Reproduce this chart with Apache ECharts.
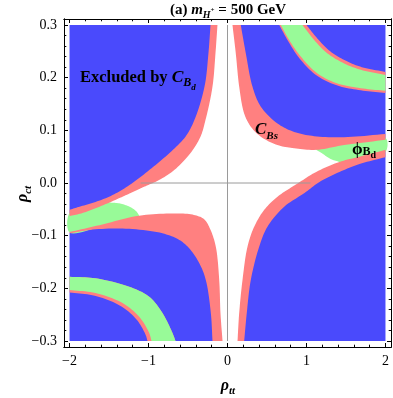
<!DOCTYPE html>
<html>
<head>
<meta charset="utf-8">
<script src="https://cdn.jsdelivr.net/npm/echarts@6/dist/echarts.min.js"></script>
<style>
  html, body { margin: 0; padding: 0; background: #fff; }
  #chart { width: 393px; height: 398px; }
</style>
</head>
<body>
<div id="chart"></div>
<script>
// axis ranges (Mathematica pads the frame a little around the data range)
const xRange = [-2, 2];
const yRange = [-0.3, 0.3];
const xMajor = [-2, -1, 0, 1, 2];
const yMajor = [-0.3, -0.2, -0.1, 0, 0.1, 0.2, 0.3];

// boundary curves, [rho_tt, rho_ct]
// C_Bs band, upper left: edge against the blue, and edge against the allowed region
const ulBlue = [[-2, -0.051], [-1.873, -0.045], [-1.671, -0.036], [-1.456, -0.023], [-1.241, -0.004],
  [-0.987, 0.025], [-0.734, 0.057], [-0.532, 0.088], [-0.418, 0.120], [-0.291, 0.183],
  [-0.241, 0.247], [-0.215, 0.300]];
const ulInner = [[-0.127, 0.300], [-0.152, 0.247], [-0.190, 0.183], [-0.278, 0.120], [-0.342, 0.088],
  [-0.468, 0.057], [-0.671, 0.025], [-0.861, 0.006], [-1.038, -0.006], [-1.241, -0.020],
  [-1.494, -0.037], [-1.671, -0.048], [-1.835, -0.057], [-2, -0.063]];
// C_Bs band, lower left
const llInner = [[-2, -0.093], [-1.620, -0.080], [-1.118, -0.062], [-0.696, -0.058], [-0.443, -0.060],
  [-0.295, -0.069], [-0.215, -0.089], [-0.148, -0.121], [-0.105, -0.184], [-0.089, -0.247],
  [-0.063, -0.300]];
const llBlue = [[-0.190, -0.300], [-0.211, -0.247], [-0.275, -0.184], [-0.358, -0.152], [-0.485, -0.124],
  [-0.611, -0.108], [-0.823, -0.0955], [-1.244, -0.087], [-1.671, -0.088], [-2, -0.0955]];
// C_Bs band, upper right
const urInner = [[0.063, 0.300], [0.105, 0.246], [0.148, 0.183], [0.211, 0.132], [0.295, 0.107],
  [0.422, 0.088], [0.633, 0.072], [0.844, 0.066], [1.123, 0.063], [1.477, 0.072], [2, 0.082]];
const urBlue = [[2, 0.093], [1.477, 0.087], [1.097, 0.089], [0.844, 0.097], [0.633, 0.113],
  [0.422, 0.145], [0.316, 0.183], [0.232, 0.246], [0.168, 0.300]];
// C_Bs band, lower right
const lrInner = [[2, 0.063], [1.671, 0.050], [1.418, 0.040], [1.123, 0.021], [0.886, -0.001],
  [0.633, -0.026], [0.465, -0.051], [0.338, -0.083], [0.253, -0.121], [0.190, -0.184],
  [0.148, -0.247], [0.127, -0.300]];
const lrBlue = [[0.211, -0.300], [0.244, -0.247], [0.295, -0.184], [0.401, -0.121], [0.506, -0.083],
  [0.718, -0.045], [0.975, -0.019], [1.165, 0.002], [1.418, 0.021], [1.671, 0.036], [2, 0.049]];
// phi_Bd wedges: edge against the allowed region, plus hidden parts under the C_Bs bands
const greenLeftEdge = [[-1.494, -0.037], [-1.36, -0.039], [-1.24, -0.045], [-1.16, -0.053], [-1.118, -0.062], [-1.10, -0.068]];
const greenLeftHidden = [[-1.62, -0.084], [-2, -0.094], [-2, -0.057], [-1.835, -0.051], [-1.671, -0.042], [-1.50, -0.032]];
const greenRightEdge = [[1.418, 0.040], [1.30, 0.046], [1.20, 0.056], [1.123, 0.063]];
const greenRightHidden = [[1.11, 0.066], [1.477, 0.076], [2, 0.086], [2, 0.059], [1.671, 0.046], [1.43, 0.037]];
// phi_Bd band, top right, with its thin C_Bs rim
const trOuter = [[0.949, 0.300], [1.097, 0.2715], [1.266, 0.246], [1.477, 0.227], [1.687, 0.215], [2, 0.205]];
const trInner = [[2, 0.175], [1.687, 0.180], [1.392, 0.189], [1.139, 0.208], [0.928, 0.240], [0.781, 0.2715], [0.675, 0.300]];
const trRimOuter = [[1.00, 0.300], [1.14, 0.274], [1.30, 0.250], [1.50, 0.232], [1.70, 0.220], [2, 0.211]];
const trRimInner = [[2, 0.171], [1.687, 0.176], [1.392, 0.185], [1.13, 0.204], [0.915, 0.236], [0.765, 0.270], [0.655, 0.300]];
// phi_Bd band, bottom left, with its thin C_Bs rim
const blOuter = [[-2, -0.178], [-1.671, -0.181], [-1.244, -0.197], [-0.991, -0.216], [-0.823, -0.247], [-0.696, -0.285], [-0.658, -0.300]];
const blInner = [[-0.962, -0.300], [-0.991, -0.285], [-1.118, -0.254], [-1.329, -0.228], [-1.671, -0.209], [-2, -0.203]];
const blRimInner = [[-1.013, -0.300], [-1.04, -0.287], [-1.158, -0.258], [-1.36, -0.233], [-1.68, -0.214], [-2, -0.208]];
// corners of the plotted range (kept as single points: straight edges)
const plotCorners = [[[-2, -0.3]], [[2, -0.3]], [[2, 0.3]], [[-2, 0.3]]];

const BLUE = '#4a4afc';
const PINK = '#ff8080';
const GREEN = '#98fa98';
const SERIF = '"Liberation Serif", "Times New Roman", serif';

const xPad = 0.07, yPad = 0.0114;
const xMinor = [], yMinor = [];
for (let i = -10; i <= 10; i++) if (i % 5 !== 0) xMinor.push(i / 5);
for (let i = -15; i <= 15; i++) if (i % 5 !== 0) yMinor.push(i / 50);

const rev = function (a) { return a.slice().reverse(); };

// centripetal Catmull-Rom through pixel points, so edges render as smooth curves
function smooth(P, seg) {
  const n = P.length;
  if (n < 3) return P.slice();
  const ext = [[2 * P[0][0] - P[1][0], 2 * P[0][1] - P[1][1]]].concat(P,
    [[2 * P[n - 1][0] - P[n - 2][0], 2 * P[n - 1][1] - P[n - 2][1]]]);
  const d = function (a, b) { return Math.pow(Math.hypot(b[0] - a[0], b[1] - a[1]), 0.5) || 1e-6; };
  const out = [];
  for (let i = 1; i < ext.length - 2; i++) {
    const p0 = ext[i - 1], p1 = ext[i], p2 = ext[i + 1], p3 = ext[i + 2];
    const t0 = 0, t1 = t0 + d(p0, p1), t2 = t1 + d(p1, p2), t3 = t2 + d(p2, p3);
    for (let k = 0; k < seg; k++) {
      const t = t1 + (t2 - t1) * k / seg;
      const L = function (a, b, ta, tb) {
        return [((tb - t) * a[0] + (t - ta) * b[0]) / (tb - ta), ((tb - t) * a[1] + (t - ta) * b[1]) / (tb - ta)];
      };
      const A1 = L(p0, p1, t0, t1), A2 = L(p1, p2, t1, t2), A3 = L(p2, p3, t2, t3);
      const B1 = L(A1, A2, t0, t2), B2 = L(A2, A3, t1, t3);
      out.push(L(B1, B2, t1, t2));
    }
  }
  out.push(P[n - 1]);
  return out;
}

// a filled region made of curves joined by straight pieces
function region(name, curves, color, grow) {
  return {
    type: 'custom', name: name, coordinateSystem: 'cartesian2d', silent: true,
    data: [[0, 0]],
    renderItem: function (params, api) {
      let pts = [];
      curves.forEach(function (c) {
        pts = pts.concat(smooth(c.map(function (p) { return api.coord(p); }), 10));
      });
      return {
        type: 'polygon',
        shape: { points: pts },
        style: grow ? { fill: color, stroke: color, lineWidth: grow } : { fill: color }
      };
    }
  };
}

function fmt(v, digits) {
  const s = digits ? Math.abs(v).toFixed(digits) : String(Math.abs(v));
  return (v < 0 ? '\u2212' : '') + s;
}

function axis(dim, pos, vals, len, showLabel) {
  const isX = dim === 'x';
  return {
    type: 'value', position: pos,
    min: isX ? xRange[0] - xPad : yRange[0] - yPad,
    max: isX ? xRange[1] + xPad : yRange[1] + yPad,
    axisLine: { show: true, onZero: false, lineStyle: { color: '#000', width: 1 } },
    axisTick: { show: true, inside: true, length: len, customValues: vals, lineStyle: { color: '#000', width: 1 } },
    axisLabel: {
      show: showLabel, customValues: vals, margin: 7,
      fontFamily: SERIF, fontSize: 14, color: '#000',
      formatter: function (v) { return isX ? fmt(v, 0) : fmt(v, 1); }
    },
    splitLine: { show: false }
  };
}

// lay out mixed-font text pieces on one baseline
const mctx = document.createElement('canvas').getContext('2d');
function textRun(x, baseline, parts, center) {
  const widths = parts.map(function (p) { mctx.font = p.font; return mctx.measureText(p.t).width; });
  const total = widths.reduce(function (a, b) { return a + b; }, 0);
  let cx = center ? x - total / 2 : x;
  return parts.map(function (p, i) {
    const size = parseFloat(p.font.match(/(\d+(\.\d+)?)px/)[1]);
    const el = {
      type: 'text', x: cx, y: baseline + (p.dy || 0) - 0.3 * size, z: 100,
      style: { text: p.t, font: p.font, fill: '#000', textAlign: 'left', textVerticalAlign: 'middle' }
    };
    cx += widths[i];
    return el;
  });
}
const F = function (style, size) { return style + ' ' + size + 'px ' + SERIF; };

const graphics = []
  .concat(textRun(228, 15, [
    { t: '(a) ', font: F('bold', 15) },
    { t: 'm', font: F('italic bold', 15) },
    { t: 'H', font: F('italic bold', 10), dy: 3 },
    { t: '+', font: F('bold', 7), dy: -3 },
    { t: ' = 500 GeV', font: F('bold', 15) }
  ], true))
  .concat(textRun(80, 83, [
    { t: 'Excluded by ', font: F('bold', 16.5) },
    { t: 'C', font: F('italic bold', 17.5) },
    { t: 'B', font: F('italic bold', 12), dy: 4 },
    { t: 'd', font: F('italic bold', 9), dy: 7 }
  ]))
  .concat(textRun(255, 135, [
    { t: 'C', font: F('italic bold', 17) },
    { t: 'Bs', font: F('italic bold', 11), dy: 4 }
  ]))
  .concat(textRun(352, 155, [
    { t: '\u03d5', font: F('bold', 17) },
    { t: 'B', font: F('bold', 12), dy: 1 },
    { t: 'd', font: F('bold', 10), dy: 3 }
  ]))
  .concat(textRun(228, 391, [
    { t: '\u03c1', font: F('italic bold', 16) },
    { t: 'tt', font: F('italic bold', 11), dy: 3 }
  ], true));

graphics.push({
  type: 'group', x: 28, y: 194, rotation: Math.PI / 2, z: 100,
  children: textRun(0, 0, [
    { t: '\u03c1', font: F('italic bold', 16) },
    { t: 'ct', font: F('italic bold', 11), dy: 3 }
  ], true)
});

const chart = echarts.init(document.getElementById('chart'), null, { renderer: 'canvas' });
chart.setOption({
  animation: false,
  backgroundColor: '#fff',
  grid: { left: 64, top: 19, width: 327, height: 328, containLabel: false, outerBoundsMode: 'none' },
  xAxis: [
    axis('x', 'bottom', xMajor, 4, true),
    axis('x', 'bottom', xMinor, 2.3, false),
    axis('x', 'top', xMajor, 4, false),
    axis('x', 'top', xMinor, 2.3, false)
  ],
  yAxis: [
    axis('y', 'left', yMajor, 4, true),
    axis('y', 'left', yMinor, 2.3, false),
    axis('y', 'right', yMajor, 4, false),
    axis('y', 'right', yMinor, 2.3, false)
  ],
  series: [
    region('excluded', plotCorners, BLUE),
    region('allowed', [urInner, lrInner, rev(llInner), rev(ulInner)], '#fff', 1.5),
    {
      type: 'line', silent: true, symbol: 'none',
      data: [[-1.1, 0], [1.05, 0]],
      lineStyle: { color: '#9a9a9a', width: 1 }
    },
    {
      type: 'line', silent: true, symbol: 'none',
      data: [[0, yRange[0]], [0, yRange[1]]],
      lineStyle: { color: '#9a9a9a', width: 1 }
    },
    region('phiBd left', [greenLeftEdge, greenLeftHidden], GREEN),
    region('phiBd right', [greenRightHidden, greenRightEdge], GREEN),
    region('CBs upper left', [ulBlue, ulInner], PINK),
    region('CBs lower left', [llInner, llBlue], PINK),
    region('CBs upper right', [urInner, urBlue], PINK),
    region('CBs lower right', [lrInner, lrBlue], PINK),
    region('CBs rim top right', [trRimOuter, trRimInner], PINK),
    region('phiBd top right', [trOuter, trInner], GREEN),
    region('CBs rim bottom left', [blOuter, blRimInner], PINK),
    region('phiBd bottom left', [blOuter, blInner], GREEN)
  ],
  graphic: graphics
});
</script>
</body>
</html>
